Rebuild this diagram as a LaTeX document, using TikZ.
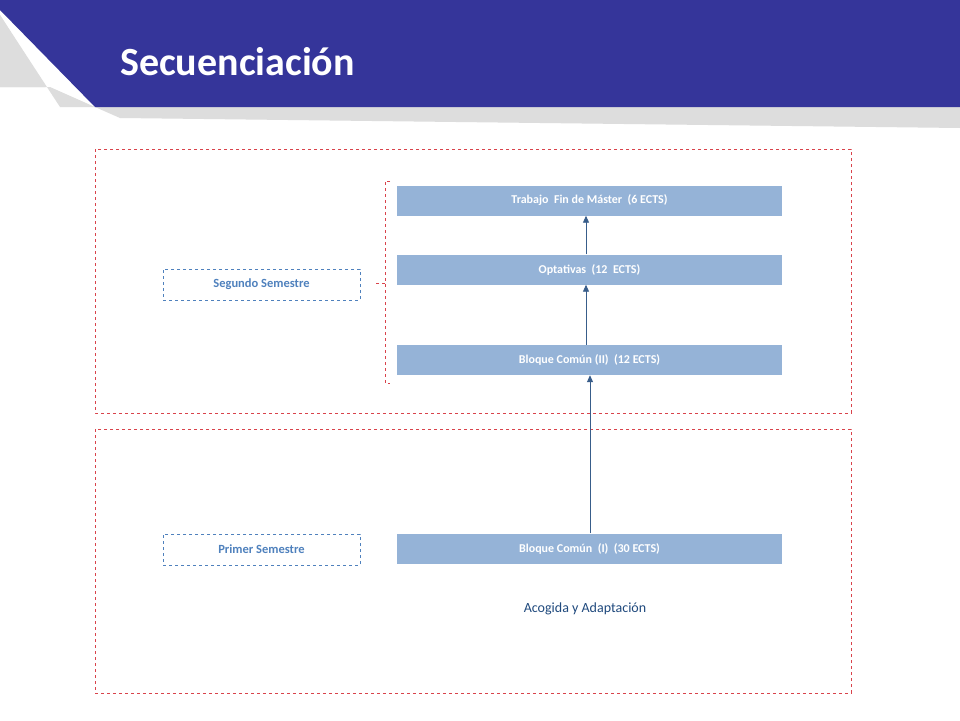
\documentclass[tikz,border=0pt]{standalone}
\usepackage{fontspec}
\setmainfont{Carlito}
\usetikzlibrary{arrows.meta}
\definecolor{hdr}{HTML}{35359A}
\definecolor{shd}{HTML}{DDDDDD}
\definecolor{boxf}{HTML}{95B3D7}
\definecolor{lbl}{HTML}{4F81BD}
\definecolor{arr}{HTML}{385D8A}
\definecolor{redd}{HTML}{D9434B}
\definecolor{acog}{HTML}{1F497D}
\tikzset{
  course/.style={fill=boxf,minimum width=385pt,minimum height=30pt,inner sep=0pt,text=white,font=\bfseries\fontsize{12}{14}\selectfont},
  semlabel/.style={draw=lbl,dashed,minimum width=197pt,minimum height=31pt,inner sep=0pt,text=lbl,font=\bfseries\fontsize{12.5}{14}\selectfont},
  frame/.style={draw=redd,dashed,line width=0.8pt},
  flow/.style={draw=arr,line width=0.9pt,-{Triangle[length=7pt,width=6pt]}}
}
\begin{document}
\begin{tikzpicture}[x=1pt,y=-1pt]
\useasboundingbox (0,0) rectangle (960,720);
\fill[white] (0,0) rectangle (960,720);
% header
\fill[shd] (0,15) -- (60,107) -- (95,107) -- (120,118) -- (960,128) -- (960,107) -- (95,107) -- (50,87) -- (0,87) -- cycle;
\fill[shd] (0,15) -- (0,87) -- (45,87) -- cycle;
\fill[hdr] (0,0) -- (960,0) -- (960,107) -- (95,107) -- (0,10) -- cycle;
\node[anchor=base west,text=white,font=\bfseries\fontsize{40}{44}\selectfont,inner sep=0pt] (title) at (120,75) {Secuenciación};
% frames
\draw[frame] (95,149) rectangle (851,413);
\draw[frame] (95,429) rectangle (851,693);
% courses
\node[course] (tfm) at (589.5,200.5) {Trabajo\ \ Fin de Máster\ \ (6 ECTS)};
\node[course] (opt) at (589.5,269.5) {Optativas\ \ (12\ \ ECTS)};
\node[course] (bc2) at (589.5,360) {Bloque Común (II)\ \ (12 ECTS)};
\node[course] (bc1) at (589.5,548.5) {Bloque Común\ \ (I)\ \ (30 ECTS)};
% labels
\node[semlabel] (seg) at (261.5,284.5) {Segundo Semestre};
\node[semlabel] (pri) at (261.5,549.5) {Primer Semestre};
\node[text=acog,font=\fontsize{14}{16}\selectfont] (acg) at (585,609) {Acogida y Adaptación};
% bracket
\coordinate (bt) at (390,181);
\coordinate (bb) at (390,383);
\draw[frame] (bt) -- (385,181) -- (385,383) -- (bb);
\coordinate (bm) at (375,283);
\draw[frame] (385,283) -- (bm);
% arrows
\draw[flow] (bc1.north -| 590,0) -- (bc2.south -| 590,0);
\draw[flow] (bc2.north -| 586,0) -- (opt.south -| 586,0);
\draw[flow] (opt.north -| 586,0) -- (tfm.south -| 586,0);
\end{tikzpicture}
\end{document}
